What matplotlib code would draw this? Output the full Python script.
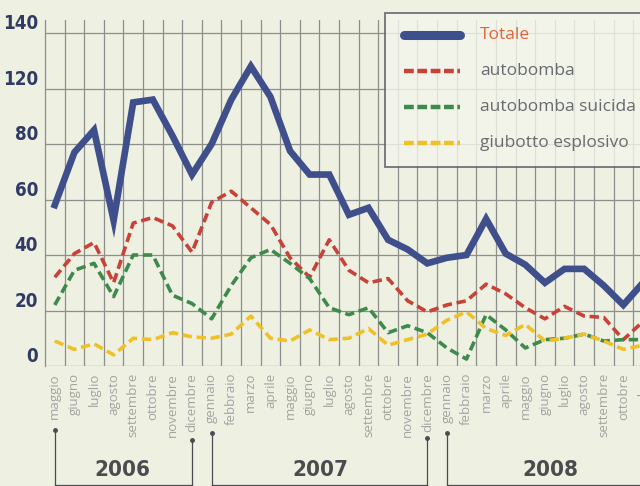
import numpy as np
import matplotlib
matplotlib.use('Agg')
import matplotlib.pyplot as plt
import matplotlib.transforms as mtransforms
from matplotlib.patches import Rectangle
from matplotlib.lines import Line2D

# mesi (maggio 2006 - novembre 2008)
mesi = ['maggio', 'giugno', 'luglio', 'agosto', 'settembre', 'ottobre', 'novembre', 'dicembre',
        'gennaio', 'febbraio', 'marzo', 'aprile', 'maggio', 'giugno', 'luglio', 'agosto',
        'settembre', 'ottobre', 'novembre', 'dicembre',
        'gennaio', 'febbraio', 'marzo', 'aprile', 'maggio', 'giugno', 'luglio', 'agosto',
        'settembre', 'ottobre', 'novembre']

totale = [58, 77, 85, 52.5, 95, 96, 83, 69, 80, 96, 108, 97, 77.5, 69, 69, 54.5,
          57, 45.5, 42, 37, 39, 40, 53, 40.5, 36.5, 30, 35, 35, 29, 22, 30]
autobomba = [32, 40.5, 44.5, 30, 51.5, 53.5, 50.5, 41, 59, 63, 57, 51, 39, 32, 45.5, 34.5,
             30, 31.5, 23.5, 19.5, 22, 23.5, 29.5, 26, 21, 17, 21.5, 18, 17.5, 9.5, 16]
suicida = [22, 34.5, 37, 25, 40, 40, 25.5, 22.5, 17, 29, 39, 42, 37, 31.5, 21, 18.5,
           21, 12, 14.5, 12, 6.5, 2.5, 18.5, 13, 6.5, 9.5, 10, 11.5, 9, 9.5, 9.5]
giubotto = [9, 6, 8, 4, 10, 9.5, 12, 10.5, 10, 11.5, 18, 10, 9, 13, 9.5, 10,
            13.5, 7.5, 9.5, 11.5, 16.5, 19.5, 13.5, 11, 15, 9, 10, 11.5, 9, 6, 7.5]

# etichette asse y come stampate (manca il 100)
y_pos = [0, 20, 40, 60, 80, 100, 120]
y_lab = ['0', '20', '40', '60', '80', '120', '140']

anni = ['2006', '2007', '2008']
anni_da = [0, 8, 20]
anni_a = [7, 19, 31]

serie_nomi = ['Totale', 'autobomba', 'autobomba suicida', 'giubotto esplosivo']

bg = '#eef0e2'
blu = '#3f4f8c'
rosso = '#c94238'
verde = '#3e8a4a'
giallo = '#f0c126'
stretto = dict(family='DejaVu Sans', fontstretch='condensed', fontweight='bold')

W, H = 640, 486
fig = plt.figure(figsize=(6.4, 4.86), dpi=100, facecolor=bg)
ax = fig.add_axes([45 / W, 1 - 366 / H, 1 - 45 / W, 346 / H])
ax.set_facecolor(bg)

x = np.arange(len(mesi))

# griglia
ax.set_xticks(x)
ax.set_xticks(np.arange(len(mesi)) + 0.5, minor=True)
ax.set_yticks(y_pos)
ax.grid(which='minor', axis='x', color='#8c8f8c', lw=0.9)
ax.grid(which='major', axis='y', color='#8c8f8c', lw=0.9)
ax.tick_params(which='both', length=0)
ax.set_axisbelow(True)
for s in ['top', 'right', 'bottom']:
    ax.spines[s].set_visible(False)
ax.spines['left'].set_color('#8c8f8c')
ax.spines['left'].set_linewidth(0.9)

ax.set_xticklabels(mesi, rotation=90, fontsize=9.5, color='#a2a4a2', family='Open Sans')
ax.tick_params(axis='x', pad=5)
ax.set_yticklabels(y_lab, fontsize=13.5, color='#313a64', **stretto)
for t in ax.get_yticklabels():
    t.set_va('bottom')
ax.tick_params(axis='y', pad=5)

# ultima etichetta (tagliata dal bordo come nell'originale)
ax.text(x[-1], -0.02, mesi[-1], transform=mtransforms.blended_transform_factory(ax.transData, ax.transAxes),
        rotation=90, ha='center', va='top', fontsize=9.5, color='#a2a4a2', family='Open Sans',
        clip_on=False)

# serie
d = (2.6, 1.3)
ax.plot(x, autobomba, color=rosso, lw=2.6, dashes=d)
ax.plot(x, suicida, color=verde, lw=2.6, dashes=d)
ax.plot(x, giubotto, color=giallo, lw=2.6, dashes=d)
ax.plot(x, totale, color=blu, lw=4.8, solid_joinstyle='miter')

ax.set_xlim(-0.5, 29.85)
ax.set_ylim(0, 124.7)

# parentesi degli anni
tr = mtransforms.blended_transform_factory(ax.transData, fig.transFigure)
yb = 1 - 484.5 / H
top_sx = [430, 433, 433]
top_dx = [440, 438, None]
for anno, a, b, ts, td in zip(anni, anni_da, anni_a, top_sx, top_dx):
    ax.plot([a, a], [1 - ts / H, yb], color='#4a4d50', lw=0.9, transform=tr, clip_on=False)
    ax.plot([a], [1 - ts / H], 'o', ms=2.5, color='#4a4d50', transform=tr, clip_on=False)
    ax.plot([a, b], [yb, yb], color='#4a4d50', lw=0.9, transform=tr, clip_on=False)
    if td is not None:
        ax.plot([b, b], [1 - td / H, yb], color='#4a4d50', lw=0.9, transform=tr, clip_on=False)
        ax.plot([b], [1 - td / H], 'o', ms=2.5, color='#4a4d50', transform=tr, clip_on=False)
fig.text(122 / W, 1 - 470 / H, anni[0], ha='center', va='center', fontsize=16,
         color='#4a4c4e', **stretto)
fig.text(320 / W, 1 - 470 / H, anni[1], ha='center', va='center', fontsize=16,
         color='#4a4c4e', **stretto)
fig.text(550 / W, 1 - 470 / H, anni[2], ha='center', va='center', fontsize=16,
         color='#4a4c4e', **stretto)

# legenda disegnata a mano (il riquadro esce dal bordo destro)
fig.patches.append(Rectangle((385 / W, 1 - 167 / H), 300 / W, 154 / H,
                             transform=fig.transFigure, facecolor='#f4f6ec', alpha=0.8,
                             edgecolor='#50555c', lw=1.3, zorder=5))
stili = [dict(color=blu, lw=6.5, solid_capstyle='round'),
         dict(color=rosso, lw=3.2, dashes=(2.2, 0.8)),
         dict(color=verde, lw=3.2, dashes=(2.2, 0.8)),
         dict(color=giallo, lw=3.2, dashes=(2.2, 0.8))]
for k, (nome, st) in enumerate(zip(serie_nomi, stili)):
    yy = 1 - (35 + 36 * k) / H
    fig.lines.append(Line2D([404 / W, 460 / W], [yy, yy], transform=fig.transFigure,
                            zorder=6, **st))
    fig.text(480 / W, yy, nome, va='center', ha='left', fontsize=12.5, family='Open Sans',
             color='#e0643c' if k == 0 else '#686b6e', zorder=6)

fig.savefig('out.png', dpi=100, facecolor=bg)
